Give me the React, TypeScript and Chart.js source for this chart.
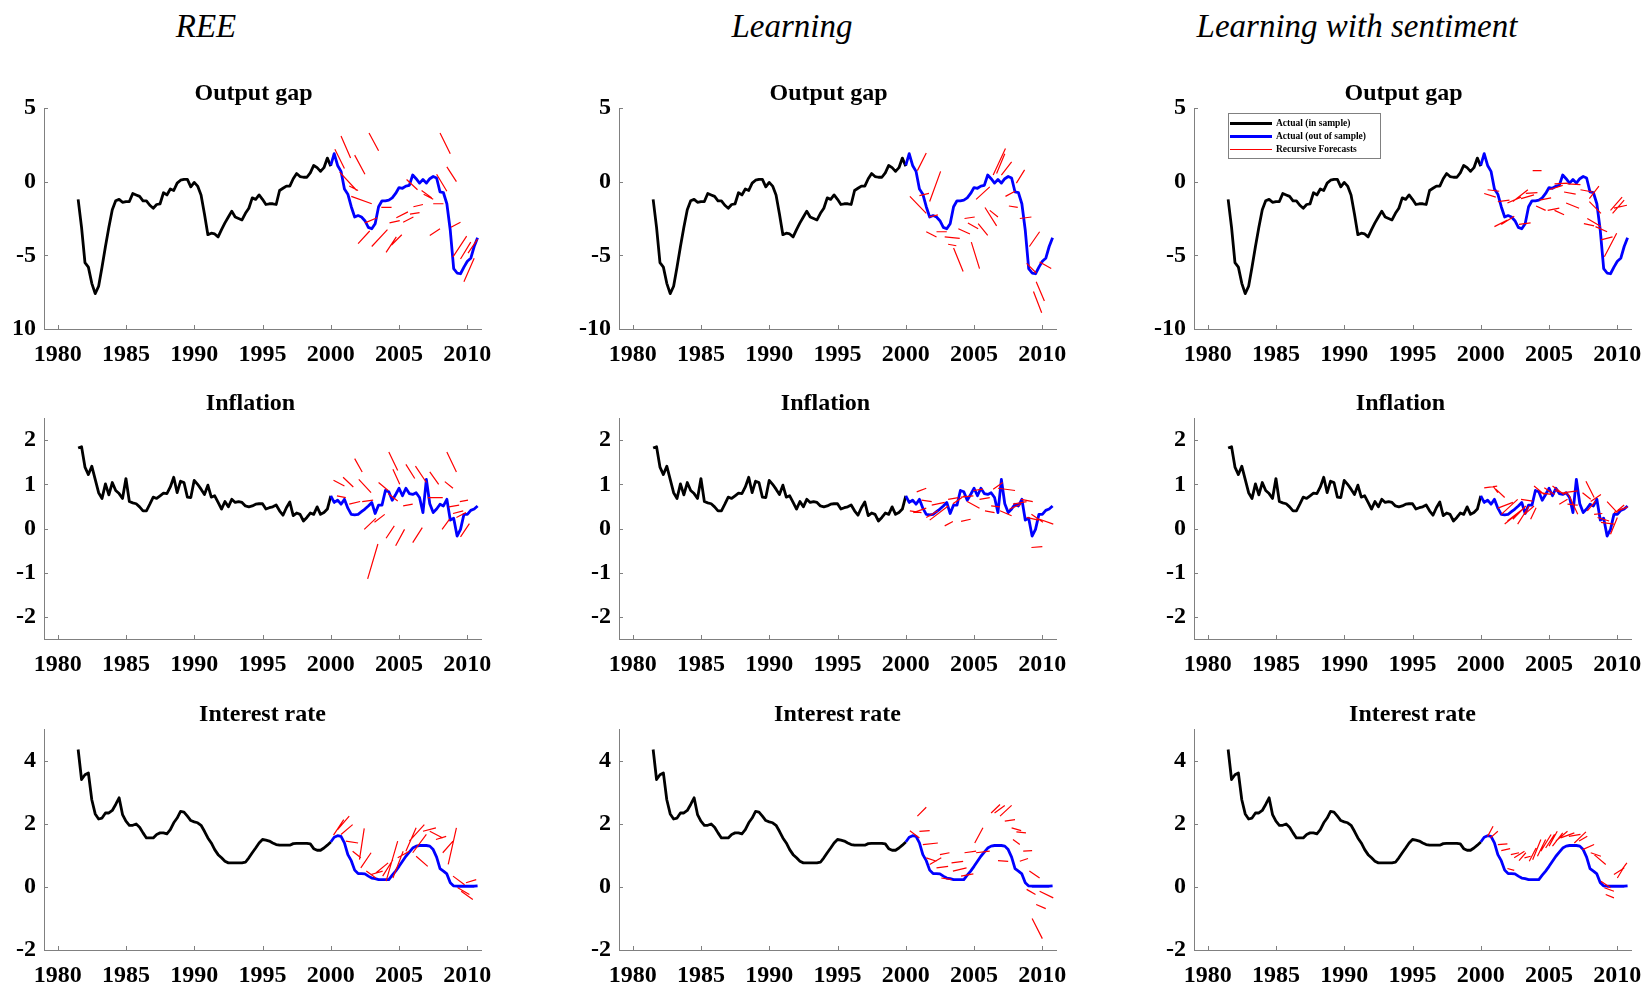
import React, { useEffect, useRef } from "react";
import { Chart, registerables } from "chart.js";

Chart.register(...registerables);

// ---------- axes ----------
const X_MIN = 1979;
const X_MAX = 2011;
const X_TICKS = [1980, 1985, 1990, 1995, 2000, 2005, 2010];

const IN_START = 1981.5; // first in-sample quarter
const OUT_START = 2000.0; // first out-of-sample quarter
const QUARTER = 0.25;

const COLUMN_TITLES = ["REE", "Learning", "Learning with sentiment"];
const ROW_TITLES = ["Output gap", "Inflation", "Interest rate"];
const LEGEND_LABELS = ["Actual (in sample)", "Actual (out of sample)", "Recursive Forecasts"];

const Y_TICKS_OUTPUT = [-10, -5, 0, 5];
const Y_LABELS_OUTPUT = ["-10", "-5", "0", "5"];
const Y_LABELS_OUTPUT_REE = ["10", "-5", "0", "5"];
const Y_TICKS_INFL = [-2, -1, 0, 1, 2];
const Y_LABELS_INFL = ["-2", "-1", "0", "1", "2"];
const Y_TICKS_RATE = [-2, 0, 2, 4];
const Y_LABELS_RATE = ["-2", "0", "2", "4"];

// ---------- actual series (quarterly) ----------
const OUTPUT_IN = [
  -1.2, -3.1, -5.5, -5.8, -6.9, -7.6, -7.1, -5.8, -4.4, -3.1, -1.9, -1.3,
  -1.2, -1.4, -1.35, -1.35, -0.8, -0.9, -1.0, -1.3, -1.3, -1.6, -1.8, -1.55,
  -1.5, -0.75, -0.9, -0.5, -0.6, -0.1, 0.1, 0.15, 0.15, -0.35, -0.05, -0.3,
  -0.9, -2.2, -3.6, -3.5, -3.55, -3.75, -3.25, -2.8, -2.4, -2.0, -2.4, -2.5,
  -2.6, -2.15, -1.8, -1.1, -1.2, -0.9, -1.2, -1.55, -1.5, -1.5, -1.55, -0.6,
  -0.45, -0.3, -0.3, 0.2, 0.55, 0.35, 0.3, 0.3, 0.6, 1.1, 0.95, 0.7,
  0.95, 1.6, 1.05,
];
const OUTPUT_OUT = [
  1.1, 1.9, 1.1, 0.7, -0.5, -0.85, -1.7, -2.4, -2.3, -2.4, -2.65, -3.1,
  -3.2, -2.85, -1.7, -1.3, -1.3, -1.25, -1.1, -0.8, -0.4, -0.45, -0.3, -0.25,
  0.45, 0.2, -0.1, 0.15, -0.1, 0.2, 0.35, 0.25, -0.7, -0.75, -1.5, -3.3,
  -5.9, -6.2, -6.25, -5.8, -5.4, -5.2, -4.4, -3.8,
];
const INFL_IN = [
  1.82, 1.85, 1.39, 1.22, 1.41, 1.11, 0.81, 0.68, 1.01, 0.76, 1.04, 0.86,
  0.79, 0.68, 1.13, 0.61, 0.58, 0.56, 0.49, 0.4, 0.4, 0.55, 0.71, 0.68,
  0.74, 0.8, 0.79, 0.94, 1.16, 0.81, 1.07, 1.04, 0.71, 0.7, 1.09, 1.0,
  0.89, 0.77, 0.98, 0.71, 0.74, 0.59, 0.44, 0.61, 0.49, 0.66, 0.59, 0.61,
  0.59, 0.51, 0.49, 0.51, 0.55, 0.56, 0.56, 0.44, 0.47, 0.49, 0.53, 0.4,
  0.3, 0.47, 0.6, 0.29, 0.35, 0.32, 0.17, 0.25, 0.35, 0.32, 0.49, 0.32,
  0.36, 0.44, 0.74,
];
const INFL_OUT = [
  0.74, 0.59, 0.64, 0.55, 0.66, 0.46, 0.32, 0.31, 0.32, 0.38, 0.44, 0.51,
  0.59, 0.34, 0.53, 0.53, 0.86, 0.83, 0.64, 0.77, 0.91, 0.74, 0.91, 0.79,
  0.77, 0.81, 0.7, 0.36, 1.11, 0.56, 0.36, 0.44, 0.55, 0.51, 0.66, 0.19,
  0.23, -0.17, -0.02, 0.32, 0.32, 0.41, 0.44, 0.51,
];
const RATE_IN = [
  4.35, 3.4, 3.55, 3.61, 2.76, 2.31, 2.15, 2.18, 2.34, 2.34, 2.42, 2.61,
  2.82, 2.29, 2.08, 1.95, 1.95, 1.99, 1.89, 1.71, 1.55, 1.55, 1.55, 1.66,
  1.71, 1.71, 1.68, 1.81, 2.03, 2.18, 2.39, 2.37, 2.24, 2.1, 2.06, 2.03,
  1.95, 1.76, 1.55, 1.39, 1.18, 1.02, 0.92, 0.81, 0.76, 0.76, 0.76, 0.76,
  0.76, 0.78, 0.92, 1.08, 1.23, 1.39, 1.5, 1.48, 1.45, 1.39, 1.34, 1.32,
  1.32, 1.32, 1.32, 1.37, 1.38, 1.38, 1.38, 1.38, 1.36, 1.21, 1.16, 1.16,
  1.23, 1.32, 1.42,
];
const RATE_OUT = [
  1.42, 1.57, 1.62, 1.6, 1.39, 1.02, 0.83, 0.53, 0.42, 0.42, 0.41, 0.34,
  0.28, 0.26, 0.23, 0.23, 0.23, 0.23, 0.37, 0.5, 0.65, 0.81, 0.97, 1.1,
  1.23, 1.29, 1.31, 1.31, 1.31, 1.29, 1.18, 0.94, 0.58, 0.5, 0.41, 0.13,
  0.03, 0.02, 0.02, 0.02, 0.02, 0.02, 0.02, 0.03,
];

// ---------- recursive forecasts: [start year, start value, end year, end value] ----------
const FC_REE_OUTPUT = [
  [2000.3, 2.2, 2001.0, 0.9], [2000.75, 3.1, 2001.45, 1.6], [2000.65, 0.65, 2001.9, -0.6],
  [2001.75, 1.8, 2002.5, 0.5], [2001.35, -0.3, 2002.0, -0.6], [2001.5, -1.0, 2003.0, -1.5],
  [2002.8, 3.3, 2003.5, 2.1], [2003.7, -1.75, 2004.45, -1.75], [2002.5, -2.8, 2003.4, -2.45],
  [2002.0, -4.2, 2002.85, -3.35], [2003.0, -4.4, 2004.15, -3.25], [2004.05, -4.8, 2004.8, -3.75],
  [2004.45, -4.3, 2005.2, -3.6], [2004.3, -2.8, 2005.05, -2.65], [2004.8, -2.45, 2005.65, -2.05],
  [2005.3, -2.75, 2006.05, -2.4], [2005.8, -2.2, 2006.5, -2.1], [2006.05, -1.7, 2006.75, -1.55],
  [2005.55, 0.15, 2006.35, -0.55], [2006.65, -0.6, 2007.4, -1.1], [2006.8, -0.85, 2007.5, -1.2],
  [2007.5, -1.5, 2008.25, -1.5], [2007.75, 0.5, 2008.5, -0.65], [2007.25, -3.65, 2008.0, -3.2],
  [2008.8, -3.1, 2009.5, -2.75], [2008.95, -5.1, 2009.95, -3.7], [2009.5, -5.25, 2010.25, -4.1],
  [2009.75, -6.8, 2010.5, -5.2], [2010.05, -4.85, 2010.75, -3.9], [2008.0, 3.3, 2008.75, 1.9],
  [2008.5, 1.0, 2009.2, 0.0],
];
const FC_LEARN_OUTPUT = [
  [2000.85, 0.75, 2001.5, 1.95], [2000.3, -1.0, 2001.5, -2.15], [2001.0, -0.95, 2001.7, -0.8],
  [2001.75, -1.35, 2002.55, 0.7], [2001.7, -2.4, 2002.35, -2.25], [2001.5, -3.4, 2002.25, -3.75],
  [2002.25, -3.4, 2003.0, -3.4], [2002.85, -3.75, 2003.95, -3.85], [2003.1, -4.25, 2003.7, -4.35],
  [2003.5, -4.5, 2004.2, -6.1], [2004.8, -4.1, 2005.4, -5.9], [2004.3, -2.5, 2005.05, -2.4],
  [2003.85, -3.2, 2004.7, -3.55], [2004.55, -2.8, 2005.3, -3.2], [2005.3, -2.85, 2006.0, -3.65],
  [2005.15, -1.2, 2006.15, -0.35], [2005.8, -1.75, 2006.65, -3.0], [2006.15, -1.95, 2006.75, -2.4],
  [2006.4, 0.45, 2007.3, 2.25], [2006.65, 0.55, 2007.25, 1.9], [2007.0, 0.45, 2007.75, 1.35],
  [2007.3, -1.0, 2008.0, -0.65], [2008.1, -0.1, 2008.7, 0.8], [2007.55, -1.65, 2008.2, -1.75],
  [2008.35, -2.5, 2009.2, -2.4], [2009.05, -4.4, 2009.8, -3.4], [2008.85, -5.55, 2009.55, -6.2],
  [2009.8, -5.45, 2010.65, -5.9], [2009.35, -7.45, 2009.95, -8.9], [2009.55, -6.8, 2010.15, -8.1],
];
const FC_SENT_OUTPUT = [
  [2000.25, -0.8, 2001.1, -1.05], [2000.5, -0.55, 2001.35, -0.65], [2001.25, -1.35, 2002.1, -1.25],
  [2001.95, -1.45, 2002.95, -1.05], [2002.35, -1.35, 2003.45, -0.55], [2002.95, -1.15, 2003.9, -0.9],
  [2003.3, -0.8, 2004.15, -0.75], [2001.0, -3.05, 2001.95, -2.6], [2001.5, -2.9, 2002.45, -2.35],
  [2002.8, -2.9, 2003.65, -2.8], [2003.8, 0.75, 2004.45, 0.75], [2004.05, -1.65, 2004.75, -1.95],
  [2004.3, -1.25, 2005.15, -1.1], [2004.9, -1.95, 2005.75, -1.8], [2005.4, -1.95, 2006.1, -2.25],
  [2005.0, -0.55, 2006.0, -0.25], [2005.4, -0.15, 2006.35, -0.1], [2006.1, -0.7, 2006.95, -0.85],
  [2006.25, -1.45, 2007.2, -1.8], [2006.35, -0.15, 2007.3, -0.2], [2007.3, -0.55, 2008.2, -0.7],
  [2007.95, -1.15, 2008.65, -0.3], [2007.55, -2.85, 2008.3, -3.0], [2007.8, -2.5, 2008.8, -3.05],
  [2007.95, -1.35, 2008.8, -2.15], [2008.4, -3.05, 2009.25, -3.4], [2008.8, -3.95, 2009.65, -3.75],
  [2009.05, -5.1, 2009.95, -3.5], [2009.5, -1.95, 2010.35, -1.05], [2009.75, -1.8, 2010.7, -1.6],
  [2009.65, -2.15, 2010.5, -1.25],
];
const FC_REE_INFL = [
  [2001.75, 1.58, 2002.3, 1.28], [2000.2, 1.09, 2001.0, 0.96], [2000.9, 1.16, 2001.65, 0.94],
  [2002.05, 1.11, 2002.95, 0.81], [2004.25, 1.73, 2004.9, 1.31], [2004.55, 1.34, 2005.05, 1.0],
  [2005.5, 1.45, 2006.15, 1.13], [2006.2, 1.41, 2007.0, 1.04], [2007.25, 1.28, 2007.9, 1.0],
  [2008.35, 1.06, 2008.95, 0.91], [2008.5, 1.73, 2009.2, 1.28], [2003.5, 1.04, 2004.2, 0.86],
  [2004.2, 0.79, 2004.9, 0.62], [2000.45, 0.74, 2001.1, 0.7], [2001.35, 0.55, 2002.15, 0.61],
  [2002.3, 0.61, 2003.1, 0.64], [2005.3, 0.51, 2006.0, 0.55], [2007.1, 0.7, 2008.2, 0.7],
  [2008.65, 0.49, 2009.4, 0.53], [2008.95, 0.34, 2009.7, 0.4], [2009.45, 0.61, 2010.05, 0.64],
  [2008.15, -0.02, 2008.7, 0.21], [2009.5, -0.19, 2010.15, 0.11], [2009.2, 0.25, 2009.9, 0.36],
  [2002.45, -0.02, 2003.3, 0.23], [2003.2, 0.14, 2003.95, 0.32], [2004.05, -0.22, 2004.65, 0.06],
  [2004.75, -0.39, 2005.4, -0.02], [2006.0, -0.32, 2006.7, 0.02], [2002.7, -1.14, 2003.45, -0.35],
];
const FC_LEARN_INFL = [
  [2000.8, 0.83, 2001.5, 0.91], [2000.3, 0.4, 2001.15, 0.36], [2000.55, 0.36, 2001.5, 0.46],
  [2001.15, 0.64, 2001.9, 0.61], [2001.5, 0.25, 2002.35, 0.4], [2001.75, 0.19, 2003.1, 0.51],
  [2001.9, 0.53, 2002.85, 0.59], [2002.85, 0.06, 2003.45, 0.16], [2004.05, 0.16, 2004.75, 0.21],
  [2003.1, 0.66, 2003.85, 0.7], [2003.45, 0.56, 2004.3, 0.74], [2004.05, 0.71, 2004.95, 0.74],
  [2004.5, 0.61, 2005.4, 0.46], [2004.95, 0.86, 2005.65, 0.89], [2005.4, 0.66, 2006.15, 0.7],
  [2005.8, 0.4, 2006.5, 0.36], [2006.25, 0.51, 2006.9, 0.49], [2006.4, 0.89, 2007.1, 1.04],
  [2006.75, 0.91, 2008.0, 0.86], [2006.9, 0.4, 2007.75, 0.29], [2007.6, 0.44, 2008.45, 0.55],
  [2007.85, 0.55, 2008.85, 0.61], [2008.45, 0.66, 2009.3, 0.61], [2008.85, 0.25, 2009.7, 0.19],
  [2009.2, 0.32, 2010.05, 0.14], [2009.8, 0.21, 2010.8, 0.1], [2009.2, -0.43, 2010.0, -0.41],
];
const FC_SENT_INFL = [
  [2000.25, 0.92, 2001.2, 0.96], [2000.9, 0.96, 2001.25, 0.81], [2001.1, 0.89, 2001.75, 0.7],
  [2001.25, 0.46, 2002.35, 0.59], [2001.5, 0.32, 2002.7, 0.66], [2001.75, 0.1, 2002.95, 0.4],
  [2001.95, 0.17, 2003.2, 0.47], [2002.35, 0.21, 2003.3, 0.51], [2002.7, 0.1, 2003.55, 0.51],
  [2002.95, 0.66, 2003.8, 0.62], [2003.2, 0.32, 2003.9, 0.51], [2003.65, 0.21, 2004.05, 0.47],
  [2003.9, 0.96, 2004.65, 0.77], [2004.3, 0.81, 2005.15, 0.77], [2004.65, 0.92, 2005.4, 0.77],
  [2005.25, 0.96, 2006.1, 0.77], [2005.4, 0.86, 2006.45, 0.77], [2005.75, 0.55, 2006.35, 0.66],
  [2006.35, 0.55, 2007.1, 0.53], [2006.1, 0.81, 2007.1, 0.85], [2006.45, 0.76, 2007.1, 0.32],
  [2007.45, 0.81, 2008.05, 0.66], [2007.7, 1.07, 2008.3, 0.7], [2007.8, 0.4, 2008.4, 0.62],
  [2008.05, 0.61, 2008.8, 0.77], [2008.3, 0.32, 2008.9, 0.34], [2008.55, 0.25, 2009.4, 0.17],
  [2008.8, 0.14, 2009.75, 0.1], [2009.25, 0.61, 2010.0, 0.36], [2009.5, -0.13, 2010.0, 0.25],
  [2009.75, 0.36, 2010.75, 0.49], [2010.0, 0.4, 2010.5, 0.53],
];
const FC_REE_RATE = [
  [2000.2, 1.64, 2000.95, 2.13], [2000.5, 1.81, 2001.35, 2.24], [2000.75, 1.66, 2001.6, 1.97],
  [2001.1, 1.45, 2002.0, 1.39], [2002.1, 0.86, 2002.45, 1.85], [2001.6, 1.13, 2002.2, 0.92],
  [2002.2, 0.6, 2002.95, 1.08], [2002.6, 0.5, 2003.3, 0.28], [2002.95, 0.39, 2003.8, 0.5],
  [2003.3, 0.44, 2004.2, 0.76], [2003.8, 0.34, 2004.55, 0.86], [2004.05, 0.18, 2004.9, 1.45],
  [2004.55, 0.28, 2005.3, 1.13], [2004.9, 0.92, 2005.75, 1.13], [2005.5, 1.13, 2006.25, 1.87],
  [2005.75, 1.45, 2006.85, 1.97], [2006.0, 1.08, 2007.0, 1.66], [2006.25, 0.97, 2007.1, 0.65],
  [2006.75, 1.76, 2007.7, 1.87], [2007.25, 1.76, 2008.2, 1.55], [2007.7, 1.5, 2008.45, 1.6],
  [2008.2, 1.08, 2008.95, 1.45], [2008.6, 0.71, 2009.2, 1.87], [2008.95, 0.34, 2009.8, 0.07],
  [2009.3, -0.03, 2010.15, -0.24], [2009.55, -0.14, 2010.4, -0.4], [2009.9, 0.13, 2010.65, 0.23],
];
const FC_LEARN_RATE = [
  [2000.85, 2.24, 2001.5, 2.52], [2000.3, 1.78, 2001.0, 1.55], [2001.0, 1.76, 2001.75, 1.78],
  [2001.25, 1.34, 2002.35, 1.39], [2001.5, 0.92, 2002.25, 0.81], [2002.5, 1.02, 2003.2, 1.08],
  [2001.75, 0.71, 2002.6, 0.92], [2002.25, 0.6, 2003.1, 0.65], [2002.6, 0.28, 2003.35, 0.23],
  [2003.35, 0.76, 2004.2, 0.81], [2003.45, 0.5, 2004.45, 0.6], [2004.05, 0.34, 2004.95, 0.41],
  [2004.3, 1.08, 2005.15, 1.13], [2005.05, 1.39, 2005.65, 1.87], [2005.15, 1.08, 2006.15, 1.13],
  [2006.25, 2.34, 2006.9, 2.61], [2006.5, 2.34, 2007.25, 2.58], [2006.9, 2.24, 2007.75, 2.58],
  [2007.25, 2.08, 2008.0, 2.13], [2006.75, 0.83, 2007.5, 0.81], [2007.75, 1.87, 2008.45, 1.78],
  [2007.85, 1.5, 2008.35, 1.34], [2008.1, 1.74, 2008.8, 1.71], [2008.35, 0.81, 2008.95, 0.9],
  [2008.6, 1.13, 2009.25, 1.15], [2009.05, 0.5, 2009.8, 0.28], [2008.85, -0.08, 2009.5, -0.24],
  [2009.8, -0.14, 2010.8, -0.35], [2009.55, -0.56, 2010.25, -0.69], [2009.25, -1.0, 2010.0, -1.64],
];
const FC_SENT_RATE = [
  [2000.5, 1.6, 2000.9, 1.92], [2000.7, 1.55, 2001.25, 1.76], [2001.25, 1.34, 2001.95, 1.36],
  [2001.5, 1.15, 2002.15, 1.21], [2001.95, 0.58, 2002.45, 0.52], [2002.2, 1.02, 2002.8, 1.08],
  [2002.45, 0.92, 2003.2, 1.13], [2002.8, 0.83, 2003.3, 1.08], [2003.2, 0.92, 2003.65, 0.97],
  [2003.55, 0.81, 2004.05, 1.23], [2003.8, 0.86, 2004.4, 1.5], [2004.15, 0.97, 2004.75, 1.5],
  [2004.4, 1.13, 2005.15, 1.66], [2004.75, 1.23, 2005.4, 1.66], [2005.0, 1.29, 2005.6, 1.76],
  [2005.25, 1.29, 2006.0, 1.71], [2005.5, 1.45, 2006.35, 1.76], [2005.85, 1.55, 2006.85, 1.71],
  [2006.45, 1.6, 2007.3, 1.66], [2006.85, 1.39, 2007.7, 1.74], [2007.2, 1.45, 2007.8, 1.6],
  [2007.45, 1.18, 2008.3, 1.34], [2008.05, 1.08, 2008.8, 0.97], [2008.3, 1.02, 2009.15, 0.71],
  [2008.8, 0.18, 2009.5, -0.03], [2009.05, -0.03, 2009.75, -0.14], [2009.15, -0.24, 2009.75, -0.35],
  [2009.75, 0.39, 2010.5, 0.6], [2010.0, 0.28, 2010.6, 0.71], [2010.25, 0.5, 2010.7, 0.76],
];

// ---------- layout ----------
const COL_LEFT = [44, 619, 1194]; // plot-area left edges (page px)
const ROW_TOP = [108, 418, 729]; // plot-area top edges (page px)
const PLOT_W = 437;
const PLOT_H = 221;
const PAD_L = 50;
const PAD_T = 45;
const PAD_R = 25;
const PAD_B = 46;
const CW = PAD_L + PLOT_W + PAD_R;
const CH = PAD_T + PLOT_H + PAD_B;
const TITLE_SHIFT = [-9, -12, 0];
const HEADER_X = [206, 792, 1357];

const AXIS_COLOR = "#808080";
const SERIF = '"Liberation Serif", "Times New Roman", Times, serif';

type Seg = number[];
interface PanelCfg {
  col: number;
  row: number;
  yMin: number;
  yMax: number;
  yTicks: number[];
  yLabels: string[];
  inSample: number[];
  outSample: number[];
  forecasts: Seg[];
  legend: boolean;
}

const ROW_SPECS = [
  { yMin: -10, yMax: 5, yTicks: Y_TICKS_OUTPUT, inSample: OUTPUT_IN, outSample: OUTPUT_OUT },
  { yMin: -2.5, yMax: 2.5, yTicks: Y_TICKS_INFL, inSample: INFL_IN, outSample: INFL_OUT },
  { yMin: -2, yMax: 5, yTicks: Y_TICKS_RATE, inSample: RATE_IN, outSample: RATE_OUT },
];
const FORECASTS = [
  [FC_REE_OUTPUT, FC_LEARN_OUTPUT, FC_SENT_OUTPUT],
  [FC_REE_INFL, FC_LEARN_INFL, FC_SENT_INFL],
  [FC_REE_RATE, FC_LEARN_RATE, FC_SENT_RATE],
];
const Y_LABELS = [
  [Y_LABELS_OUTPUT_REE, Y_LABELS_OUTPUT, Y_LABELS_OUTPUT],
  [Y_LABELS_INFL, Y_LABELS_INFL, Y_LABELS_INFL],
  [Y_LABELS_RATE, Y_LABELS_RATE, Y_LABELS_RATE],
];

const PANELS: PanelCfg[] = [];
for (let row = 0; row < 3; row++) {
  for (let col = 0; col < 3; col++) {
    PANELS.push({
      col,
      row,
      ...ROW_SPECS[row],
      yLabels: Y_LABELS[row][col],
      forecasts: FORECASTS[row][col],
      legend: row === 0 && col === 2,
    });
  }
}

function seriesPoints(values: number[], start: number) {
  return values.map((v, i) => ({ x: start + i * QUARTER, y: v }));
}
function segmentPoints(segs: Seg[]) {
  const out: { x: number; y: number | null }[] = [];
  for (const [x0, y0, x1, y1] of segs) {
    out.push({ x: x0, y: y0 }, { x: x1, y: y1 }, { x: x1, y: null });
  }
  return out;
}

const decorPlugin = {
  id: "decor",
  afterDraw(chart: any, _args: any, opts: any) {
    const { ctx, chartArea: a, scales } = chart;
    ctx.save();
    // inward tick marks
    ctx.strokeStyle = AXIS_COLOR;
    ctx.lineWidth = 1;
    ctx.beginPath();
    for (const t of scales.x.ticks) {
      const px = Math.round(scales.x.getPixelForValue(t.value)) + 0.5;
      ctx.moveTo(px, a.bottom);
      ctx.lineTo(px, a.bottom - 4);
    }
    for (const t of scales.y.ticks) {
      const py = Math.round(scales.y.getPixelForValue(t.value)) + 0.5;
      ctx.moveTo(a.left, py);
      ctx.lineTo(a.left + 4, py);
    }
    ctx.stroke();

    // panel title
    ctx.fillStyle = "#000";
    ctx.font = `bold 24px ${SERIF}`;
    ctx.textAlign = "center";
    ctx.textBaseline = "alphabetic";
    ctx.fillText(opts.title, (a.left + a.right) / 2 + opts.shift, a.top - 8.5);

    // legend box
    if (opts.legend) {
      const bx = a.left + 34;
      const by = a.top + 5;
      const bw = 152;
      const bh = 45;
      ctx.fillStyle = "#fff";
      ctx.fillRect(bx, by, bw, bh);
      ctx.strokeStyle = AXIS_COLOR;
      ctx.lineWidth = 1;
      ctx.strokeRect(bx + 0.5, by + 0.5, bw, bh);
      const items = opts.legend as { label: string; color: string; width: number }[];
      items.forEach((it, i) => {
        const yy = by + 10.5 + i * 13;
        ctx.strokeStyle = it.color;
        ctx.lineWidth = it.width;
        ctx.beginPath();
        ctx.moveTo(bx + 2, yy);
        ctx.lineTo(bx + 44, yy);
        ctx.stroke();
        ctx.fillStyle = "#000";
        ctx.font = `bold 9.5px ${SERIF}`;
        ctx.textAlign = "left";
        ctx.textBaseline = "middle";
        ctx.fillText(it.label, bx + 48, yy + 0.5);
      });
    }
    ctx.restore();
  },
};

const BLACK_W = 2.8;
const BLUE_W = 2.8;
const RED_W = 1.2;

function Panel({ p }: { p: PanelCfg }) {
  const ref = useRef<HTMLCanvasElement>(null);
  useEffect(() => {
    const tickFont = { family: SERIF, weight: "bold" as const, size: 24 };
    const chart = new Chart(ref.current as HTMLCanvasElement, {
      type: "line",
      data: {
        datasets: [
          {
            label: LEGEND_LABELS[2],
            data: segmentPoints(p.forecasts) as any,
            borderColor: "#ff0000",
            borderWidth: RED_W,
            pointRadius: 0,
            spanGaps: false,
            order: 0,
          },
          {
            label: LEGEND_LABELS[1],
            data: seriesPoints(p.outSample, OUT_START),
            borderColor: "#0000ff",
            borderWidth: BLUE_W,
            pointRadius: 0,
            borderJoinStyle: "round",
            order: 1,
          },
          {
            label: LEGEND_LABELS[0],
            data: seriesPoints(p.inSample, IN_START),
            borderColor: "#000000",
            borderWidth: BLACK_W,
            pointRadius: 0,
            borderJoinStyle: "round",
            order: 2,
          },
        ],
      },
      options: {
        animation: false,
        responsive: false,
        maintainAspectRatio: false,
        devicePixelRatio: 1,
        events: [],
        layout: { padding: { left: 0, top: PAD_T, right: PAD_R, bottom: 0 } },
        plugins: {
          legend: { display: false },
          tooltip: { enabled: false },
          title: { display: false },
          decor: {
            title: ROW_TITLES[p.row],
            shift: TITLE_SHIFT[p.row],
            legend: p.legend
              ? [
                  { label: LEGEND_LABELS[0], color: "#000000", width: BLACK_W },
                  { label: LEGEND_LABELS[1], color: "#0000ff", width: BLUE_W },
                  { label: LEGEND_LABELS[2], color: "#ff0000", width: RED_W },
                ]
              : null,
          },
        } as any,
        scales: {
          x: {
            type: "linear",
            min: X_MIN,
            max: X_MAX,
            afterBuildTicks: (s: any) => {
              s.ticks = X_TICKS.map((v) => ({ value: v }));
            },
            afterFit: (s: any) => {
              s.height = PAD_B;
            },
            grid: { display: false, drawTicks: false },
            border: { display: true, color: AXIS_COLOR, width: 1 },
            ticks: {
              color: "#000",
              font: tickFont,
              padding: 11,
              maxRotation: 0,
              autoSkip: false,
              callback: (v: any) => String(v),
            },
          },
          y: {
            type: "linear",
            min: p.yMin,
            max: p.yMax,
            afterBuildTicks: (s: any) => {
              s.ticks = p.yTicks.map((v) => ({ value: v }));
            },
            afterFit: (s: any) => {
              s.width = PAD_L;
            },
            grid: { display: false, drawTicks: false },
            border: { display: true, color: AXIS_COLOR, width: 1 },
            ticks: {
              color: "#000",
              font: tickFont,
              padding: 8,
              autoSkip: false,
              callback: (v: any) => {
                const i = p.yTicks.indexOf(Number(v));
                return i >= 0 ? p.yLabels[i] : "";
              },
            },
          },
        },
      },
      plugins: [decorPlugin],
    });
    return () => chart.destroy();
  }, [p]);
  return (
    <canvas
      ref={ref}
      width={CW}
      height={CH}
      style={{
        position: "absolute",
        left: COL_LEFT[p.col] - PAD_L,
        top: ROW_TOP[p.row] - PAD_T,
        width: CW,
        height: CH,
      }}
    />
  );
}

export default function App() {
  return (
    <div
      style={{
        position: "absolute",
        left: 0,
        top: 0,
        width: 1646,
        height: 986,
        background: "#fff",
        overflow: "hidden",
      }}
    >
      {COLUMN_TITLES.map((t, i) => (
        <div
          key={t}
          style={{
            position: "absolute",
            left: HEADER_X[i] - 300,
            width: 600,
            top: 6,
            textAlign: "center",
            fontFamily: SERIF,
            fontStyle: "italic",
            fontSize: 33,
            lineHeight: "40px",
            color: "#000",
          }}
        >
          {t}
        </div>
      ))}
      {PANELS.map((p) => (
        <Panel key={`${p.row}-${p.col}`} p={p} />
      ))}
    </div>
  );
}
